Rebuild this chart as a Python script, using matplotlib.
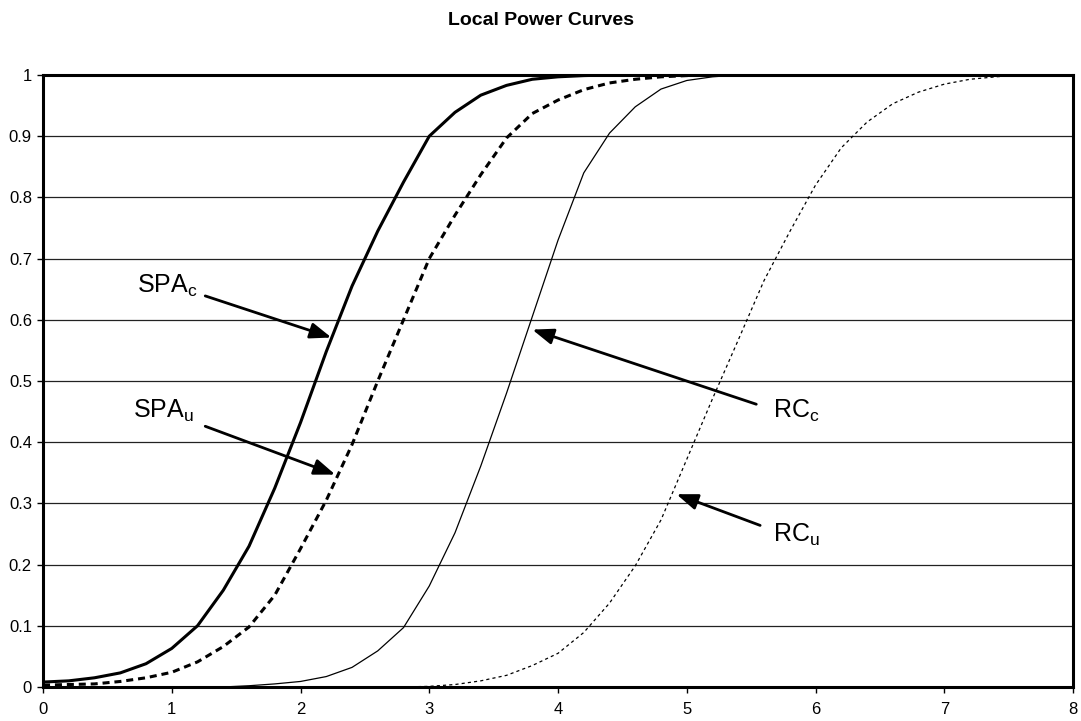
"""Local power curves: SPA and RC, consistent vs. unconsistent versions."""
import matplotlib
matplotlib.use("Agg")
import matplotlib.pyplot as plt
import numpy as np

plt.rcParams["font.family"] = ["Liberation Sans", "DejaVu Sans"]
plt.rcParams["mathtext.default"] = "regular"

# local alternative, step 0.2 from 0 to 8
x = np.round(np.arange(0, 8.01, 0.2), 1)

spa_c = [0.008, 0.010, 0.015, 0.023, 0.038, 0.063, 0.100, 0.158, 0.230, 0.325,
         0.432, 0.548, 0.655, 0.745, 0.825, 0.900, 0.939, 0.967, 0.983, 0.993,
         0.997, 0.999, 1.0, 1.0, 1.0, 1.0, 1.0, 1.0, 1.0, 1.0,
         1.0, 1.0, 1.0, 1.0, 1.0, 1.0, 1.0, 1.0, 1.0, 1.0, 1.0]
spa_u = [0.003, 0.004, 0.005, 0.009, 0.015, 0.024, 0.041, 0.066, 0.098, 0.150,
         0.226, 0.305, 0.396, 0.500, 0.600, 0.700, 0.771, 0.837, 0.897, 0.937,
         0.959, 0.976, 0.987, 0.993, 0.997, 0.999, 1.0, 1.0, 1.0, 1.0,
         1.0, 1.0, 1.0, 1.0, 1.0, 1.0, 1.0, 1.0, 1.0, 1.0, 1.0]
rc_c = [0.0, 0.0, 0.0, 0.0, 0.0, 0.0, 0.0, 0.0, 0.002, 0.005,
        0.009, 0.017, 0.032, 0.059, 0.097, 0.165, 0.252, 0.361, 0.480, 0.605,
        0.730, 0.840, 0.905, 0.948, 0.977, 0.991, 0.997, 1.0, 1.0, 1.0,
        1.0, 1.0, 1.0, 1.0, 1.0, 1.0, 1.0, 1.0, 1.0, 1.0, 1.0]
rc_u = [0.0, 0.0, 0.0, 0.0, 0.0, 0.0, 0.0, 0.0, 0.0, 0.0,
        0.0, 0.0, 0.0, 0.0, 0.0, 0.001, 0.004, 0.010, 0.019, 0.035,
        0.055, 0.089, 0.137, 0.198, 0.273, 0.372, 0.471, 0.567, 0.664, 0.744,
        0.820, 0.881, 0.923, 0.953, 0.972, 0.985, 0.993, 0.997, 1.0, 1.0, 1.0]

# label text, text anchor (left, baseline), arrow tail, arrow head
labels = ["SPA$_c$", "SPA$_u$", "RC$_c$", "RC$_u$"]
label_xy = [(0.73, 0.644), (0.70, 0.440), (5.67, 0.440), (5.67, 0.238)]
arrow_tail = [(1.26, 0.639), (1.26, 0.426), (5.54, 0.462), (5.57, 0.264)]
arrow_head = [(2.24, 0.571), (2.27, 0.347), (3.80, 0.584), (4.92, 0.315)]

fig = plt.figure(figsize=(10.81, 7.21), dpi=100)
ax = fig.add_axes([0.0398, 0.0472, 0.9528, 0.8488])

ax.plot(x, spa_c, color="black", lw=2.2, solid_joinstyle="round")
ax.plot(x, spa_u, color="black", lw=2.2, linestyle=(0, (2.3, 1.6)))
ax.plot(x, rc_c, color="black", lw=0.9)
ax.plot(x, rc_u, color="black", lw=0.9, linestyle=(0, (2.5, 2.5)))

ax.set_xlim(0, 8)
ax.set_ylim(0, 1)
ax.set_xticks(range(0, 9))
ax.set_yticks(np.round(np.arange(0, 1.01, 0.1), 1))
ax.set_yticklabels(["0", "0.1", "0.2", "0.3", "0.4", "0.5", "0.6", "0.7", "0.8", "0.9", "1"])
ax.yaxis.grid(True, color="#222222", lw=0.9)
ax.set_axisbelow(True)
ax.tick_params(axis="both", direction="out", length=4, width=1, labelsize=12,
               colors="black")
ax.tick_params(axis="y", pad=4)
ax.tick_params(axis="x", pad=7)
for sp in ax.spines.values():
    sp.set_linewidth(2.2)
    sp.set_color("black")

for lab, lxy, tail, head in zip(labels, label_xy, arrow_tail, arrow_head):
    ax.text(lxy[0], lxy[1], lab, fontsize=18, ha="left", va="baseline")
    ax.annotate("", xy=head, xytext=tail,
                arrowprops=dict(arrowstyle="-|>,head_length=0.8,head_width=0.3",
                                color="black", lw=2, mutation_scale=16,
                                shrinkA=0, shrinkB=0))

fig.text(0.5, 1 - 25 / 721, "Local Power Curves", ha="center", va="baseline",
         fontsize=14, fontweight="bold")

fig.savefig("out.png", dpi=100)
